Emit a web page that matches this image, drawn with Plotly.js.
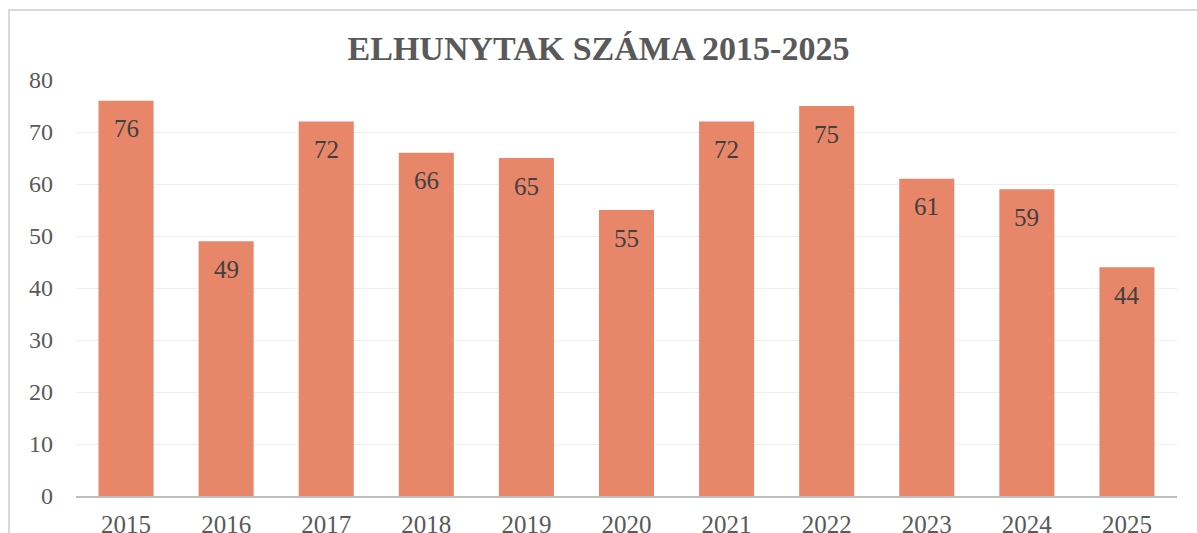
<!DOCTYPE html>
<html>
<head>
<meta charset="utf-8">
<script src="https://cdn.plot.ly/plotly-3.0.1.min.js"></script>
<style>
html,body{margin:0;padding:0;background:#fff;}
#wrap{position:relative;width:1197px;height:533px;overflow:hidden;}
#chart{position:absolute;left:0;top:0;width:1197px;height:533px;}
#frame{position:absolute;left:8px;top:9px;width:1200px;height:600px;border-top:2px solid #D9D9D9;border-left:2px solid #D9D9D9;pointer-events:none;}
</style>
</head>
<body>
<div id="wrap"><div id="chart"></div><div id="frame"></div></div>
<script>
const years = ['2015','2016','2017','2018','2019','2020','2021','2022','2023','2024','2025'];
const deaths = [76, 49, 72, 66, 65, 55, 72, 75, 61, 59, 44];
const yTicks = [0, 10, 20, 30, 40, 50, 60, 70, 80];

const fontFamily = '"Liberation Serif", "Times New Roman", serif';

const trace = {
  type: 'bar',
  x: years,
  y: deaths,
  marker: {color: '#E8866A'},
  hoverinfo: 'x+y'
};

// category axis: annotations placed by category index
const annotations = years.map((yr, i) => ({
  x: i, y: deaths[i], xref: 'x', yref: 'y',
  text: String(deaths[i]), showarrow: false,
  yanchor: 'middle', yshift: -28,
  font: {family: fontFamily, size: 25, color: '#404040'}
}));

const layout = {
  width: 1197, height: 533,
  margin: {l: 76, r: 20, t: 80, b: 37},
  paper_bgcolor: 'rgba(0,0,0,0)',
  plot_bgcolor: '#fff',
  bargap: 0.45,
  showlegend: false,
  title: {
    text: '<b>ELHUNYTAK SZÁMA 2015-2025</b>',
    font: {family: fontFamily, size: 34, color: '#595959'},
    x: 0.5, xanchor: 'center', y: 0.91, yanchor: 'middle'
  },
  xaxis: {
    type: 'category',
    categoryorder: 'array', categoryarray: years,
    range: [-0.5, years.length - 0.5],
    showgrid: false,
    showline: true, linecolor: '#BFBFBF', linewidth: 2,
    ticks: '', ticklabelstandoff: 5,
    tickfont: {family: fontFamily, size: 25, color: '#595959'}
  },
  yaxis: {
    range: [0, 80],
    tickvals: yTicks,
    ticktext: yTicks.map(String),
    showgrid: true, gridcolor: '#EFEFEF', gridwidth: 1,
    zeroline: false, showline: false,
    ticks: '', ticklabelstandoff: 22,
    tickfont: {family: fontFamily, size: 24, color: '#595959'}
  },
  annotations: annotations
};

Plotly.newPlot('chart', [trace], layout, {displayModeBar: false, staticPlot: true});
</script>
</body>
</html>
